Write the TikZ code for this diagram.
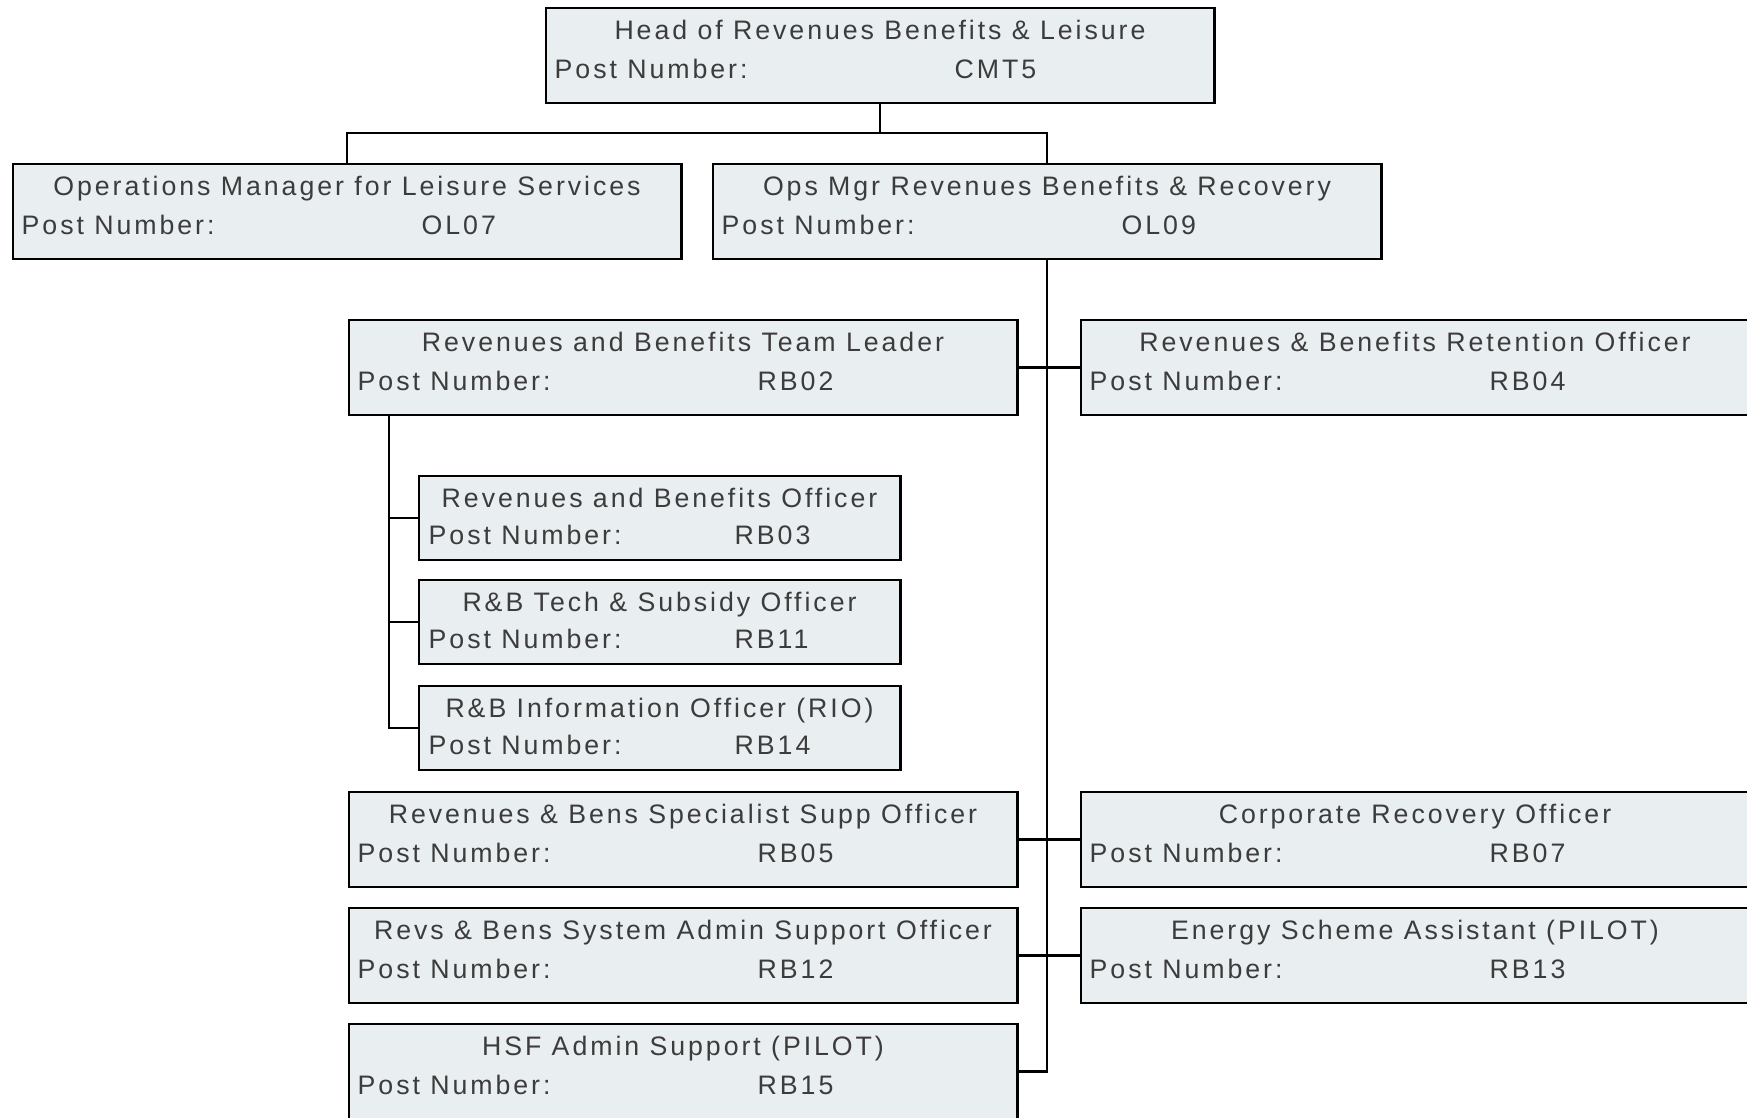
\documentclass[tikz,border=0pt]{standalone}
\usepackage{fontspec}
\usepackage{tikz}

\newfontfamily\postfont[LetterSpace=11]{Liberation Sans}
\definecolor{boxfill}{RGB}{233,238,241}
\definecolor{posttext}{RGB}{60,60,60}

\tikzset{
  postbox/.style={draw=black, line width=0.8pt, fill=boxfill, anchor=north west,
    inner sep=0pt, outer sep=0pt, minimum width=6.68cm, minimum height=0.95cm},
  smallbox/.style={postbox, minimum width=4.81cm, minimum height=0.84cm},
  posttitle/.style={anchor=base, text=posttext, inner sep=0pt,
    font=\postfont\fontsize{7.6}{9}\selectfont},
  postline/.style={posttitle, anchor=base west},
  link/.style={line width=0.6pt}
}

\begin{document}
\begin{tikzpicture}[x=0.01cm, y=-0.01cm]

\useasboundingbox (0,0) rectangle (1747,1117);

% posts with full width boxes
\foreach \nm/\x/\y/\ttl/\num in {
  head/546/8/Head of Revenues Benefits \& Leisure/CMT5,
  ol07/13/164/Operations Manager for Leisure Services/OL07,
  ol09/713/164/Ops Mgr Revenues Benefits \& Recovery/OL09,
  rb02/349/320/Revenues and Benefits Team Leader/RB02,
  rb04/1081/320/Revenues \& Benefits Retention Officer/RB04,
  rb05/349/792/Revenues \& Bens Specialist Supp Officer/RB05,
  rb07/1081/792/Corporate Recovery Officer/RB07,
  rb12/349/908/Revs \& Bens System Admin Support Officer/RB12,
  rb13/1081/908/Energy Scheme Assistant (PILOT)/RB13,
  rb15/349/1024/HSF Admin Support (PILOT)/RB15}
{
\node[postbox] (\nm) at (\x,\y) {};
\node[posttitle] (\nm-t) at (\x+334,\y+31) {\ttl};
\node[postline] (\nm-p) at (\x+8,\y+70) {Post Number:};
\node[postline] (\nm-n) at (\x+408,\y+70) {\num};
}

% posts under the team leader
\foreach \nm/\y/\ttl/\num in {
  rb03/476/Revenues and Benefits Officer/RB03,
  rb11/580/R\&B Tech \& Subsidy Officer/RB11,
  rb14/686/R\&B Information Officer (RIO)/RB14}
{
\node[smallbox] (\nm) at (419,\y) {};
\node[posttitle] (\nm-t) at (659.5,\y+31) {\ttl};
\node[postline] (\nm-p) at (428,\y+68) {Post Number:};
\node[postline] (\nm-n) at (734,\y+68) {\num};
}

\coordinate (split) at (head.south |- 0,133);
\draw[link] (head.south) -- (split);
\draw[link] (ol07.north) |- (split) -| (ol09.north);
\draw[link] (ol09.south) |- (rb15.east);

\foreach \a/\b in {rb02/rb04, rb05/rb07, rb12/rb13}
\draw[link] (\a.east) -- (\b.west);

\foreach \nm in {rb03,rb11,rb14}
\draw[link] ([xshift=4mm]rb02.south west) |- (\nm.west);

\end{tikzpicture}
\end{document}
